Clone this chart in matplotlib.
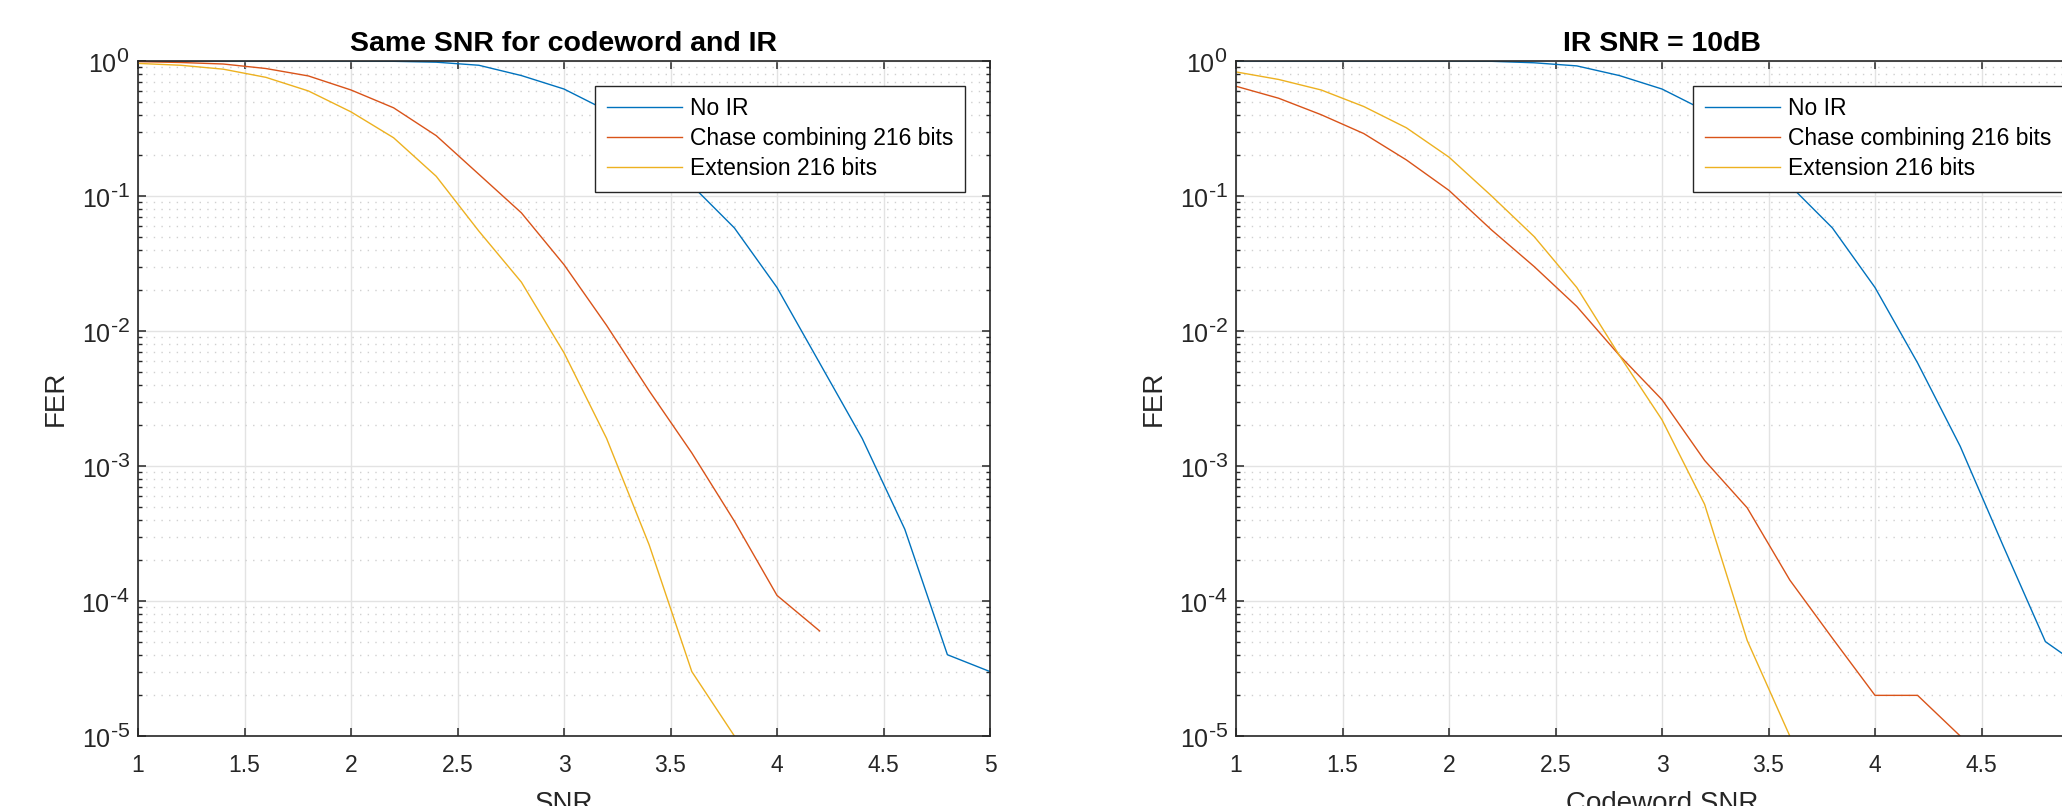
import numpy as np
import matplotlib
matplotlib.use("Agg")
import matplotlib.pyplot as plt
from matplotlib import ticker
import matplotlib._mathtext as mathtext_internal

plt.rcParams['font.family'] = ['Liberation Sans', 'DejaVu Sans']
plt.rcParams['axes.unicode_minus'] = False
plt.rcParams['mathtext.fontset'] = 'custom'
plt.rcParams['mathtext.rm'] = 'Liberation Sans'
# matlab draws bigger exponents than mathtext does
mathtext_internal.SHRINK_FACTOR = 0.85

# SNR points (1:0.2:5)
snr = [1.0, 1.2, 1.4, 1.6, 1.8, 2.0, 2.2, 2.4, 2.6, 2.8, 3.0,
       3.2, 3.4, 3.6, 3.8, 4.0, 4.2, 4.4, 4.6, 4.8, 5.0]

# left: same SNR for codeword and IR
noir_left = [1.0, 1.0, 1.0, 1.0, 1.0, 1.0, 0.995, 0.98, 0.93, 0.78, 0.62,
             0.43, 0.25, 0.12, 0.058, 0.021, 0.0058, 0.0016, 3.4e-4, 4e-5, 3e-5]
chase_left = [0.99, 0.975, 0.95, 0.88, 0.775, 0.61, 0.45, 0.28, 0.145, 0.075, 0.031,
              0.011, 0.0036, 0.00125, 3.9e-4, 1.1e-4, 6e-5]
ext_left = [0.96, 0.93, 0.87, 0.757, 0.6, 0.42, 0.27, 0.14, 0.055, 0.023, 0.0069,
            0.0016, 2.6e-4, 3e-5, 1e-5]

# right: IR SNR = 10dB
noir_right = [1.0, 1.0, 1.0, 1.0, 1.0, 1.0, 0.995, 0.97, 0.92, 0.78, 0.62,
              0.43, 0.25, 0.12, 0.058, 0.021, 0.0058, 0.0014, 2.6e-4, 5e-5, 3e-5]
chase_right = [0.65, 0.53, 0.40, 0.29, 0.185, 0.11, 0.056, 0.030, 0.0152, 0.0066, 0.0031,
               0.0011, 4.9e-4, 1.43e-4, 5.3e-5, 2e-5, 2e-5, 1e-5]
ext_right = [0.83, 0.73, 0.61, 0.46, 0.32, 0.194, 0.10, 0.05, 0.021, 0.0066, 0.0022,
             5.2e-4, 5.1e-5, 1e-5]

labels = ['No IR', 'Chase combining 216 bits', 'Extension 216 bits']
colours = ['#0072BD', '#D95319', '#EDB120']
titles = ['Same SNR for codeword and IR', 'IR SNR = 10dB']
xlabels = ['SNR', 'Codeword SNR']

axcol = '#262626'


def pow10(v, pos):
    # matlab style 10^-n with a plain hyphen
    n = int(round(np.log10(v)))
    if n < 0:
        return r'$\mathregular{10^{\text{-}%d}}$' % (-n)
    return r'$\mathregular{10^{%d}}$' % n


def style_axes(ax):
    ax.set_yscale('log')
    ax.set_xlim(1, 5)
    ax.set_ylim(1e-5, 1)
    ax.set_xticks(np.arange(1, 5.01, 0.5))
    ax.xaxis.set_major_formatter(ticker.FormatStrFormatter('%g'))
    ax.yaxis.set_major_locator(ticker.LogLocator(base=10, numticks=10))
    ax.yaxis.set_major_formatter(ticker.FuncFormatter(pow10))
    ax.yaxis.set_minor_locator(ticker.LogLocator(base=10, subs=np.arange(2, 10), numticks=20))
    ax.yaxis.set_minor_formatter(ticker.NullFormatter())
    ax.tick_params(which='both', direction='in', top=True, right=True, colors=axcol,
                   labelcolor=axcol)
    ax.tick_params(axis='x', labelsize=16.5, pad=13)
    ax.tick_params(axis='y', labelsize=18, pad=6)
    ax.tick_params(which='major', length=6, width=1.1)
    ax.tick_params(which='minor', length=3, width=1.0)
    ax.grid(which='major', color='#e3e3e3', linewidth=1.0, linestyle='-')
    ax.grid(which='minor', axis='y', color='#d0d0d0', linewidth=1.0, linestyle=(0, (1, 4.5)))
    ax.set_axisbelow(True)
    for s in ax.spines.values():
        s.set_color(axcol)
        s.set_linewidth(1.2)


def main():
    fig = plt.figure(figsize=(20.62, 8.06), dpi=100)
    ax1 = fig.add_axes([138 / 2062, 70 / 806, 852 / 2062, 675 / 806])
    ax2 = fig.add_axes([1236 / 2062, 70 / 806, 852 / 2062, 675 / 806])

    data = [(noir_left, chase_left, ext_left), (noir_right, chase_right, ext_right)]

    for i, ax in enumerate([ax1, ax2]):
        for series, c, lab in zip(data[i], colours, labels):
            ax.plot(snr[:len(series)], series, color=c, linewidth=1.0, label=lab)
        style_axes(ax)
        ax.set_title(titles[i], fontsize=20.5, fontweight='bold', pad=7)
        ax.set_xlabel(xlabels[i], fontsize=20, color=axcol, labelpad=10)
        ax.set_ylabel('FER', fontsize=20, color=axcol, labelpad=9)
        leg = ax.legend(loc='upper right', bbox_to_anchor=(0.9707, 0.963), borderaxespad=0,
                        fontsize=16.5, handlelength=3.3, handletextpad=0.35,
                        borderpad=0.5, labelspacing=0.3, fancybox=False, framealpha=1)
        leg.get_frame().set_edgecolor(axcol)
        leg.get_frame().set_linewidth(1.0)
        for t in leg.get_texts():
            t.set_color('black')

    fig.savefig('out.png', dpi=100)


if __name__ == "__main__":
    main()
